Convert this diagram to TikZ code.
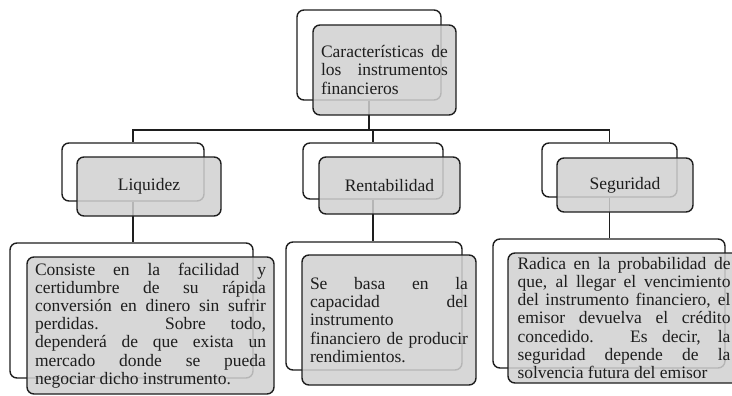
\documentclass[tikz,border=0pt]{standalone}
\usepackage{fontspec}
\setmainfont{Liberation Serif}
\definecolor{boxgray}{HTML}{D0D0D0}
\definecolor{inkc}{HTML}{1E1E1E}
\newcommand\boxfont{\fontsize{17.5pt}{18.2pt}\selectfont\tolerance=10000\hyphenpenalty=10000\exhyphenpenalty=10000}
\begin{document}
\begin{tikzpicture}[x=1pt,y=-1pt,
  backbox/.style={draw=inkc, line width=1.4pt, rounded corners=7pt, inner sep=0pt},
  frontbox/.style={draw=inkc, line width=1.4pt, rounded corners=7pt, fill=boxgray, fill opacity=0.85, text opacity=1, inner sep=0pt, font=\boxfont, text=inkc},
  parbox/.style={frontbox, align=justify},
  conn/.style={draw=inkc, line width=1.3pt}]
\useasboundingbox[fill=white] (0,0) rectangle (732,396);
% back boxes
\node[backbox, minimum width=144, minimum height=90] (b0) at (369,55) {};
\node[backbox, minimum width=142, minimum height=58] (bL) at (133,172) {};
\node[backbox, minimum width=140, minimum height=56] (bM) at (373,171) {};
\node[backbox, minimum width=135, minimum height=54] (bR) at (609.5,170) {};
\node[backbox, minimum width=243, minimum height=135] (cL) at (131.5,310.5) {};
\node[backbox, minimum width=176, minimum height=128] (cM) at (374,306) {};
\node[backbox, minimum width=232, minimum height=129] (cR) at (609,303.5) {};
% connectors
\coordinate (j0) at (369,130);
\draw[conn] (b0.south) -- (j0);
\draw[conn] (j0) -| (bL.north);
\draw[conn] (j0) -| (bM.north);
\draw[conn] (j0) -| (bR.north);
\draw[conn] (bL.south) -- (bL.south |- cL.north);
\draw[conn] (bM.south) -- (bM.south |- cM.north);
\draw[conn] (bR.south) -- (bR.south |- cR.north);
% front boxes
\node[parbox, minimum width=143, minimum height=90, text width=127] (f0) at (384.5,70)
  {Características de\linebreak los instrumentos\linebreak financieros};
\node[frontbox, minimum width=144, minimum height=59] (fL) at (149,186.5) {Liquidez};
\node[frontbox, minimum width=141, minimum height=57] (fM) at (389.5,185.5) {Rentabilidad};
\node[frontbox, minimum width=136, minimum height=54] (fR) at (625,185) {Seguridad};
\node[parbox, minimum width=247, minimum height=137, text width=231] (dL) at (150.5,325.5)
  {Consiste en la facilidad y\linebreak certidumbre de su rápida\linebreak conversión en dinero sin sufrir\linebreak perdidas. Sobre todo,\linebreak dependerá de que exista un\linebreak mercado donde se pueda\linebreak negociar dicho instrumento.};
\node[parbox, minimum width=174, minimum height=130, text width=158] (dM) at (389,320)
  {Se basa en la\linebreak capacidad del\linebreak instrumento\linebreak financiero de producir\linebreak rendimientos.};
\node[parbox, minimum width=232, minimum height=130, text width=213] (dR) at (624,318)
  {Radica en la probabilidad de\linebreak que, al llegar el vencimiento\linebreak del instrumento financiero, el\linebreak emisor devuelva el crédito\linebreak concedido. Es decir, la\linebreak seguridad depende de la\linebreak solvencia futura del emisor};
\end{tikzpicture}
\end{document}
